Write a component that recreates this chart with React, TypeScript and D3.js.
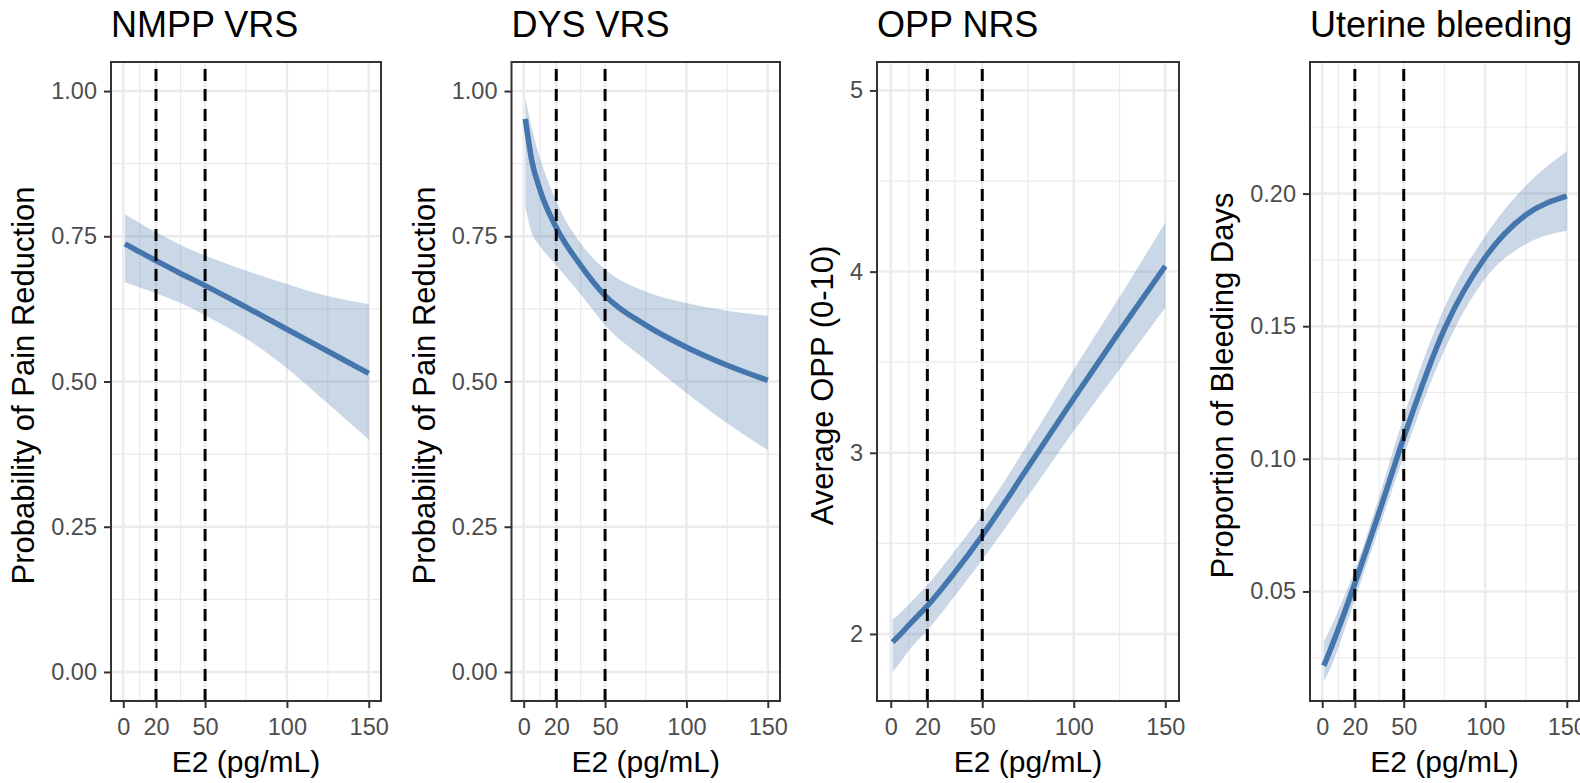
import React, { useEffect, useRef } from 'react'
import * as d3 from 'd3'

// E2 levels (pg/mL) at which the fitted curves were read
const e2 = [1, 5, 10, 20, 35, 50, 75, 100, 125, 150]
const xTicks = [0, 20, 50, 100, 150]
const xMinor = [10, 35, 75, 125]
const cutoffs = [20, 50]

const nmppFit = [0.737, 0.731, 0.723, 0.708, 0.686, 0.665, 0.628, 0.59, 0.552, 0.514]
const nmppUpper = [0.788, 0.781, 0.773, 0.757, 0.735, 0.717, 0.691, 0.668, 0.647, 0.633]
const nmppLower = [0.671, 0.667, 0.662, 0.652, 0.635, 0.614, 0.574, 0.523, 0.462, 0.4]

const dysFit = [0.952, 0.88, 0.83, 0.765, 0.7, 0.648, 0.597, 0.559, 0.528, 0.502]
const dysUpper = [0.99, 0.935, 0.885, 0.81, 0.738, 0.693, 0.655, 0.635, 0.622, 0.613]
const dysLower = [0.8, 0.755, 0.733, 0.7, 0.65, 0.597, 0.537, 0.48, 0.428, 0.382]

const oppFit = [1.955, 1.995, 2.05, 2.155, 2.34, 2.543, 2.92, 3.3, 3.67, 4.03]
const oppUpper = [2.08, 2.115, 2.165, 2.27, 2.46, 2.66, 3.05, 3.46, 3.86, 4.27]
const oppLower = [1.79, 1.84, 1.91, 2.02, 2.21, 2.41, 2.76, 3.12, 3.46, 3.8]

const bleedFit = [0.022, 0.028, 0.036, 0.053, 0.08, 0.108, 0.149, 0.176, 0.192, 0.199]
const bleedUpper = [0.031, 0.036, 0.043, 0.058, 0.086, 0.116, 0.157, 0.184, 0.203, 0.216]
const bleedLower = [0.016, 0.021, 0.029, 0.047, 0.074, 0.101, 0.141, 0.168, 0.181, 0.186]

const probTicks = [0, 0.25, 0.5, 0.75, 1]
const probMinor = [0.125, 0.375, 0.625, 0.875]
const oppTicks = [2, 3, 4, 5]
const oppMinor = [2.5, 3.5, 4.5]
const bleedTicks = [0.05, 0.1, 0.15, 0.2]
const bleedMinor = [0.025, 0.075, 0.125, 0.175, 0.225]

const FONT = "'Liberation Sans', Arial, Helvetica, sans-serif"
const LINE = '#4575ad'

const panels = [
	{ title: 'NMPP VRS', yLabel: 'Probability of Pain Reduction', fit: nmppFit, hi: nmppUpper, lo: nmppLower,
		yDomain: [-0.05, 1.05], yTicks: probTicks, yMinor: probMinor, fmt: '.2f', left: 111, right: 381 },
	{ title: 'DYS VRS', yLabel: 'Probability of Pain Reduction', fit: dysFit, hi: dysUpper, lo: dysLower,
		yDomain: [-0.05, 1.05], yTicks: probTicks, yMinor: probMinor, fmt: '.2f', left: 511.5, right: 780 },
	{ title: 'OPP NRS', yLabel: 'Average OPP (0-10)', fit: oppFit, hi: oppUpper, lo: oppLower,
		yDomain: [1.63, 5.157], yTicks: oppTicks, yMinor: oppMinor, fmt: 'd', left: 877, right: 1179 },
	{ title: 'Uterine bleeding', yLabel: 'Proportion of Bleeding Days', fit: bleedFit, hi: bleedUpper, lo: bleedLower,
		yDomain: [0.0087, 0.2496], yTicks: bleedTicks, yMinor: bleedMinor, fmt: '.2f', left: 1310, right: 1579 },
]

export default function App() {
	const ref = useRef<SVGSVGElement>(null)

	useEffect(() => {
		const svg = d3.select(ref.current)
		svg.selectAll('*').remove()
		const top = 62
		const bottom = 701

		panels.forEach((p, i) => {
			const x = d3.scaleLinear().domain([-7.5, 157.5]).range([p.left, p.right])
			const y = d3.scaleLinear().domain(p.yDomain).range([bottom, top])
			const g = svg.append('g')

			svg.append('clipPath').attr('id', 'clip' + i)
				.append('rect').attr('x', p.left).attr('y', top)
				.attr('width', p.right - p.left).attr('height', bottom - top)

			// grid, minor then major
			g.selectAll('.vmin').data(xMinor).enter().append('line')
				.attr('x1', (d) => x(d)).attr('x2', (d) => x(d)).attr('y1', top).attr('y2', bottom)
				.attr('stroke', '#ebebeb').attr('stroke-width', 1.2)
			g.selectAll('.hmin').data(p.yMinor.filter((d) => d > p.yDomain[0] && d < p.yDomain[1])).enter().append('line')
				.attr('x1', p.left).attr('x2', p.right).attr('y1', (d) => y(d)).attr('y2', (d) => y(d))
				.attr('stroke', '#ebebeb').attr('stroke-width', 1.2)
			g.selectAll('.vmaj').data(xTicks).enter().append('line')
				.attr('x1', (d) => x(d)).attr('x2', (d) => x(d)).attr('y1', top).attr('y2', bottom)
				.attr('stroke', '#ebebeb').attr('stroke-width', 2.4)
			g.selectAll('.hmaj').data(p.yTicks).enter().append('line')
				.attr('x1', p.left).attr('x2', p.right).attr('y1', (d) => y(d)).attr('y2', (d) => y(d))
				.attr('stroke', '#ebebeb').attr('stroke-width', 2.4)

			const rows = e2.map((e, k) => ({ e, fit: p.fit[k], lo: p.lo[k], hi: p.hi[k] }))
			const plot = g.append('g').attr('clip-path', `url(#clip${i})`)

			const band = d3.area<any>().curve(d3.curveMonotoneX)
				.x((d) => x(d.e)).y0((d) => y(d.lo)).y1((d) => y(d.hi))
			plot.append('path').datum(rows).attr('d', band)
				.attr('fill', LINE).attr('fill-opacity', 0.29)

			const fitLine = d3.line<any>().curve(d3.curveMonotoneX)
				.x((d) => x(d.e)).y((d) => y(d.fit))
			plot.append('path').datum(rows).attr('d', fitLine)
				.attr('fill', 'none').attr('stroke', LINE).attr('stroke-width', 5.5)

			plot.selectAll('.cut').data(cutoffs).enter().append('line')
				.attr('x1', (d) => x(d)).attr('x2', (d) => x(d)).attr('y1', bottom).attr('y2', top)
				.attr('stroke', '#000').attr('stroke-width', 3).attr('stroke-dasharray', '12 8')

			g.append('rect').attr('x', p.left).attr('y', top)
				.attr('width', p.right - p.left).attr('height', bottom - top)
				.attr('fill', 'none').attr('stroke', '#333').attr('stroke-width', 2)

			const xAxis = g.append('g').attr('transform', `translate(0, ${bottom})`)
				.call(d3.axisBottom(x).tickValues(xTicks).tickSize(7).tickPadding(10).tickFormat(d3.format('d')))
			const yAxis = g.append('g').attr('transform', `translate(${p.left}, 0)`)
				.call(d3.axisLeft(y).tickValues(p.yTicks).tickSize(7).tickPadding(7).tickFormat(d3.format(p.fmt)))
			;[xAxis, yAxis].forEach((a) => {
				a.select('.domain').remove()
				a.attr('font-family', FONT).attr('font-size', 23.5)
				a.selectAll('line').attr('stroke', '#333').attr('stroke-width', 2)
				a.selectAll('text').attr('fill', '#4d4d4d')
			})

			g.append('text').attr('x', (p.left + p.right) / 2).attr('y', 772)
				.attr('text-anchor', 'middle').attr('font-family', FONT).attr('font-size', 30)
				.text('E2 (pg/mL)')

			// bbox is in the axis group's own coordinates, so shift by the panel's left edge
			const labelsLeft = p.left + (yAxis.node() as SVGGElement).getBBox().x
			g.append('text')
				.attr('transform', `translate(${labelsLeft - 17}, ${(top + bottom) / 2 + 4}) rotate(-90)`)
				.attr('text-anchor', 'middle').attr('font-family', FONT).attr('font-size', 31)
				.text(p.yLabel)

			g.append('text').attr('x', p.left).attr('y', 37)
				.attr('font-family', FONT).attr('font-size', 36)
				.text(p.title)
		})
	}, [])

	return (
		<svg ref={ref} width={1580} height={783}
			style={{ position: 'absolute', left: 0, top: 0, background: '#fff' }} />
	)
}
